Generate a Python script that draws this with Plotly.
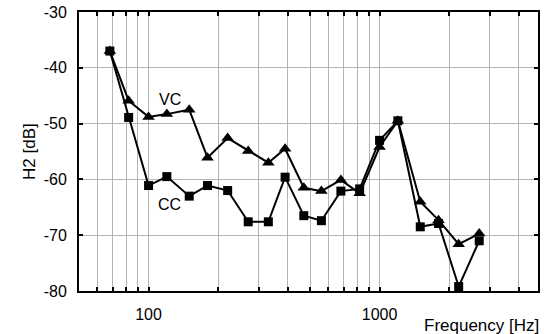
import math
import plotly.graph_objects as go

# Data (E12 frequency points)
freq = [68, 82, 100, 120, 150, 180, 220, 270, 330, 390, 470, 560, 680, 820,
        1000, 1200, 1500, 1800, 2200, 2700]
vc = [-37.0, -45.9, -48.8, -48.3, -47.5, -56.1, -52.6, -54.9, -57.0, -54.5,
      -61.5, -62.1, -60.1, -62.5, -54.2, -49.5, -64.0, -67.3, -71.6, -69.7]
cc = [-37.0, -48.9, -61.1, -59.5, -63.0, -61.1, -62.0, -67.6, -67.6, -59.6,
      -66.5, -67.4, -62.1, -61.7, -53.0, -49.5, -68.5, -67.9, -79.2, -71.0]

x_ticks = [60, 70, 80, 90, 100, 200, 300, 400, 500, 600, 700, 800, 900,
           1000, 2000, 3000, 4000]
x_labels = ["" if v not in (100, 1000) else str(v) for v in x_ticks]
y_ticks = [-80, -70, -60, -50, -40, -30]
y_labels = [str(v) for v in y_ticks]

FONT = "Liberation Sans, Arial, sans-serif"

fig = go.Figure()
fig.add_trace(go.Scatter(
    x=freq, y=vc, mode="lines+markers", name="VC",
    line=dict(color="black", width=2),
    marker=dict(symbol="triangle-up", size=11, color="black"),
))
fig.add_trace(go.Scatter(
    x=freq, y=cc, mode="lines+markers", name="CC",
    line=dict(color="black", width=2),
    marker=dict(symbol="square", size=9, color="black"),
))

axis_common = dict(
    showline=True, linecolor="black", linewidth=2, mirror="allticks",
    ticks="inside", ticklen=4, tickwidth=1.5, tickcolor="black",
    showgrid=True, gridcolor="#b4b4b4", gridwidth=1.4, zeroline=False,
    tickfont=dict(family=FONT, size=16, color="black"),
)

fig.update_layout(
    width=544, height=334,
    margin=dict(l=79, r=4, t=11, b=43),
    paper_bgcolor="white", plot_bgcolor="white",
    showlegend=False,
    font=dict(family=FONT, size=16, color="black"),
    xaxis=dict(type="log", range=[math.log10(50), math.log10(4850)],
               tickvals=x_ticks, ticktext=x_labels, ticklabelstandoff=8,
               **axis_common),
    yaxis=dict(range=[-80, -30], tickvals=y_ticks, ticktext=y_labels,
               ticklabelstandoff=7, **axis_common),
    annotations=[
        dict(text="VC", x=math.log10(123.4), y=-45.6, xref="x", yref="y",
             showarrow=False, font=dict(family=FONT, size=16, color="black")),
        dict(text="CC", x=math.log10(123.4), y=-64.55, xref="x", yref="y",
             showarrow=False, font=dict(family=FONT, size=16, color="black")),
        dict(text="H2 [dB]", x=0, xref="paper", xshift=-61, y=0.5,
             yref="paper", textangle=-90, showarrow=False,
             font=dict(family=FONT, size=17, color="black")),
        dict(text="Frequency [Hz]", x=1, xref="paper", xanchor="right",
             xshift=3, y=0, yref="paper", yanchor="middle", yshift=-34,
             showarrow=False, font=dict(family=FONT, size=17, color="black")),
    ],
)

fig.write_html("out.html")
